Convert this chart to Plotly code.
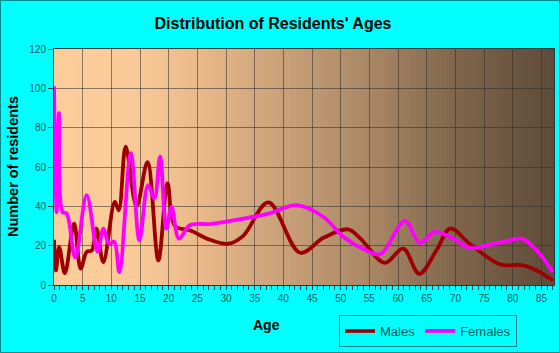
import plotly.graph_objects as go

# ---- data ----
male_age = [0, 0.35, 0.9, 1.9, 3.5, 4.65, 5.7, 6.6, 7.4, 8.6, 10.6, 11.3, 12.5, 14.4, 16.3,
            18.2, 19.8, 21.1, 23.7, 27.2, 30.4, 33, 37.4, 42.9, 47, 51.3, 53.4, 57.7, 60.9,
            63.7, 66.7, 69.1, 72.5, 77.8, 81.8, 84.2, 87]
male_val = [23, 7.4, 19.3, 6, 31.2, 8.3, 16.8, 17.6, 28.7, 11.6, 42.3, 38, 70.4, 40, 62.5,
            12.5, 51.7, 30, 27.8, 23, 21, 25, 42, 16.4, 24, 28.3, 23.7, 11.3, 18.5,
            5.7, 17.6, 28.7, 21, 10.5, 10, 7.4, 2.3]

female_age = [0, 0.47, 0.87, 1.5, 2.2, 3.7, 5.7, 7.6, 8.6, 9.6, 10.5, 11.4, 13.4, 14.9, 16.4,
              17.5, 18.5, 19.6, 20.5, 21.8, 23.7, 27.2, 30.4, 37.4, 42.3, 47, 50.5, 54.5,
              56.9, 61.2, 63.8, 66.4, 69.6, 72.5, 75.5, 78.4, 81.6, 84.2, 87]
female_val = [101, 37, 87.4, 37, 36.4, 14, 45.7, 16.8, 28.7, 21, 22, 6.5, 67, 22.7, 50.8,
              44, 65.3, 28.7, 39.7, 23.6, 30.4, 31, 32.4, 36.3, 40.6, 34.6, 24.4, 17.6,
              15.6, 32.6, 21.4, 27, 23.6, 18.8, 20.2, 21.9, 23.6, 17.6, 6.5]

x_ticks = list(range(0, 90, 5))
y_ticks = list(range(0, 140, 20))

title_text = "Distribution of Residents' Ages"
x_title = "Age"
y_title = "Number of residents"

# ---- styling ----
FONT = "Liberation Sans, Arial, sans-serif"
TEAL_TXT = "#005a5a"
W, H = 560, 353
ML, MR, MT, MB = 54, 6, 49, 68
PW, PH = W - ML - MR, H - MT - MB

fig = go.Figure()
fig.add_trace(go.Scatter(x=male_age, y=male_val, name="Males", mode="lines",
                         line=dict(color="#9c0000", width=3.8, shape="spline", smoothing=1.0)))
fig.add_trace(go.Scatter(x=female_age, y=female_val, name="Females", mode="lines",
                         line=dict(color="#ff00ff", width=3.8, shape="spline", smoothing=1.0)))

# gradient background of the plot area
stops = [(0.0, (252, 205, 154)), (0.15, (250, 203, 152)), (0.29, (234, 185, 138)),
         (0.46, (201, 160, 120)), (0.65, (166, 132, 99)), (0.8, (128, 102, 76)),
         (1.0, (94, 75, 57))]

def grad(t):
    for (t0, c0), (t1, c1) in zip(stops[:-1], stops[1:]):
        if t <= t1:
            f = (t - t0) / (t1 - t0) if t1 > t0 else 0
            return "rgb(%d,%d,%d)" % tuple(round(a + (b - a) * f) for a, b in zip(c0, c1))
    return "rgb(%d,%d,%d)" % stops[-1][1]

shapes = []
N = 200
for i in range(N):
    t0, t1 = i / N, (i + 1) / N
    shapes.append(dict(type="rect", xref="x domain", yref="y domain", x0=t0, x1=min(1, t1 + 0.002),
                       y0=0, y1=1, fillcolor=grad((t0 + t1) / 2), line=dict(width=0), layer="below"))
# outer border around whole figure
shapes.append(dict(type="rect", xref="paper", yref="paper",
                   x0=-(ML - 0.5) / PW, x1=1 + (MR - 0.5) / PW,
                   y0=-(MB - 0.5) / PH, y1=1 + (MT - 0.5) / PH,
                   line=dict(color="#008c8c", width=1), fillcolor="rgba(0,0,0,0)", layer="above"))

fig.update_layout(
    width=W, height=H, margin=dict(l=ML, r=MR, t=MT, b=MB),
    paper_bgcolor="#00ffff", plot_bgcolor="rgba(0,0,0,0)",
    font=dict(family=FONT, color=TEAL_TXT),
    shapes=shapes,
    title=dict(text="<b>%s</b>" % title_text, x=273 / W, xanchor="center", y=1 - 23 / H, yanchor="middle",
               font=dict(size=16, color="#000000", family=FONT)),
    showlegend=True,
    legend=dict(orientation="h", x=(517 - ML) / PW, xanchor="right", y=-(315 - MT - PH) / PH,
                yanchor="top", bgcolor="#00ffff", bordercolor="#008080", borderwidth=1,
                font=dict(size=13, color=TEAL_TXT, family=FONT), itemwidth=30,
                tracegroupgap=0),
    annotations=[
        dict(text="<b>%s</b>" % x_title, xref="paper", yref="paper", x=(266 - ML) / PW,
             y=-(325 - MT - PH) / PH, xanchor="center", yanchor="middle", showarrow=False,
             font=dict(size=14, color="#000000", family=FONT)),
        dict(text="<b>%s</b>" % y_title, xref="paper", yref="paper", x=-(ML - 13) / PW,
             y=0.5, xanchor="center", yanchor="middle", showarrow=False, textangle=-90,
             font=dict(size=14.5, color="#000000", family=FONT)),
    ],
)
fig.update_xaxes(range=[0, 87.2], tickvals=x_ticks, showgrid=True, gridcolor="rgba(45,45,45,0.55)",
                 gridwidth=1, zeroline=False, showline=True, linecolor="#1f3f3f", linewidth=1,
                 mirror=True, ticks="outside", ticklen=4, tickcolor="#1f4f4f",
                 minor=dict(dtick=1, ticks="outside", ticklen=4, tickcolor="#1f4f4f", showgrid=False),
                 tickfont=dict(size=10, color=TEAL_TXT, family=FONT))
fig.update_yaxes(range=[0, 120], tickvals=y_ticks, showgrid=True, gridcolor="rgba(45,45,45,0.55)",
                 gridwidth=1, zeroline=False, showline=True, linecolor="#1f3f3f", linewidth=1,
                 mirror=True, ticks="outside", ticklen=5, tickcolor="#1f4f4f",
                 tickfont=dict(size=10, color=TEAL_TXT, family=FONT))

fig.write_html("out.html")
